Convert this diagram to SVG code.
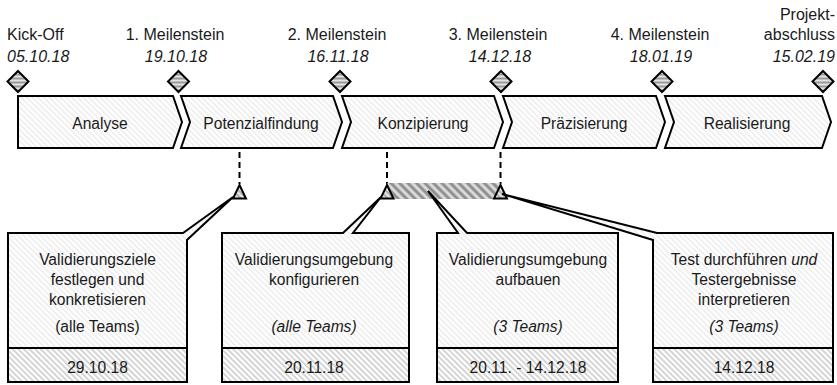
<svg xmlns="http://www.w3.org/2000/svg" width="837" height="385" viewBox="0 0 837 385">
  <defs>
    <!-- faint diagonal hatch for phase chevrons and callout bodies -->
    <pattern id="hatch-faint" patternUnits="userSpaceOnUse" width="4" height="4" patternTransform="rotate(-45)">
      <rect width="4" height="4" fill="#ffffff"/>
      <line x1="2" y1="0" x2="2" y2="4" stroke="#e4e4e4" stroke-width="1.1"/>
    </pattern>
    <!-- stronger hatch for the date cells -->
    <pattern id="hatch-date" patternUnits="userSpaceOnUse" width="4" height="4" patternTransform="rotate(-45)">
      <rect width="4" height="4" fill="#ffffff"/>
      <line x1="2" y1="0" x2="2" y2="4" stroke="#b4b4b4" stroke-width="1.1"/>
    </pattern>
    <!-- gray stripes for the duration bar -->
    <pattern id="hatch-bar" patternUnits="userSpaceOnUse" width="6" height="6" patternTransform="rotate(-45)">
      <rect width="6" height="6" fill="#dedede"/>
      <line x1="3" y1="0" x2="3" y2="6" stroke="#8c8c8c" stroke-width="3"/>
    </pattern>
    <!-- light hatch inside the small triangles -->
    <pattern id="hatch-tri" patternUnits="userSpaceOnUse" width="4" height="4" patternTransform="rotate(-45)">
      <rect width="4" height="4" fill="#e6e6e6"/>
      <line x1="2" y1="0" x2="2" y2="4" stroke="#a0a0a0" stroke-width="1.5"/>
    </pattern>
    <!-- horizontal stripes inside milestone diamonds -->
    <pattern id="stripes-h" patternUnits="userSpaceOnUse" width="4" height="4">
      <rect width="4" height="4" fill="#e4e4e4"/>
      <rect width="4" height="2" fill="#9a9a9a"/>
    </pattern>
    <path id="diamond" d="M0,-10.5 L10.5,0 L0,10.5 L-10.5,0 Z"/>
  </defs>
  <style>
    text { font-family: "Liberation Sans", Arial, sans-serif; fill: #1a1a1a; }
    .top { font-size: 16px; }
    .lbl { font-size: 15.6px; text-anchor: middle; }
    .it { font-style: italic; }
    .mid { text-anchor: middle; }
    .end { text-anchor: end; }
    .chev { fill: url(#hatch-faint); stroke: #000; stroke-width: 2; stroke-linejoin: miter; }
    .ms { fill: url(#stripes-h); stroke: #000; stroke-width: 2; }
    .tri { fill: url(#hatch-tri); stroke: #000; stroke-width: 2; stroke-linejoin: miter; }
    .box { fill: url(#hatch-faint); stroke: #000; stroke-width: 2; stroke-linejoin: miter; }
    .date { fill: url(#hatch-date); stroke: #000; stroke-width: 2; }
    .dash { stroke: #000; stroke-width: 2; stroke-dasharray: 6 4; fill: none; }
  </style>

  <rect width="837" height="385" fill="#ffffff"/>

  <!-- milestone labels -->
  <g id="milestone-labels" class="top">
    <text x="7" y="39.5">Kick-Off</text>
    <text x="7" y="61.5" class="it">05.10.18</text>
    <text x="175" y="39.5" class="mid">1. Meilenstein</text>
    <text x="176" y="61.5" class="it mid">19.10.18</text>
    <text x="337" y="39.5" class="mid">2. Meilenstein</text>
    <text x="338" y="61.5" class="it mid">16.11.18</text>
    <text x="498" y="39.5" class="mid">3. Meilenstein</text>
    <text x="500" y="61.5" class="it mid">14.12.18</text>
    <text x="660" y="39.5" class="mid">4. Meilenstein</text>
    <text x="661" y="61.5" class="it mid">18.01.19</text>
    <text x="835" y="19.5" class="end">Projekt-</text>
    <text x="835" y="39.5" class="end">abschluss</text>
    <text x="835" y="61.5" class="it end">15.02.19</text>
  </g>

  <!-- milestone diamonds -->
  <g id="milestones">
    <use href="#diamond" class="ms" transform="translate(18,81.5)"/>
    <use href="#diamond" class="ms" transform="translate(178.5,81.5)"/>
    <use href="#diamond" class="ms" transform="translate(340,81.5)"/>
    <use href="#diamond" class="ms" transform="translate(501,81.5)"/>
    <use href="#diamond" class="ms" transform="translate(662,81.5)"/>
    <use href="#diamond" class="ms" transform="translate(823,81.5)"/>
  </g>

  <!-- phase chevrons -->
  <g id="phase-analyse">
    <path class="chev" d="M18,96 H173 L182,122 L173,148 H18 Z"/>
    <text class="lbl" x="100" y="129">Analyse</text>
  </g>
  <g id="phase-potenzialfindung">
    <path class="chev" d="M181,96 H333 L342,122 L333,148 H181 L190,122 Z"/>
    <text class="lbl" x="261" y="129">Potenzialfindung</text>
  </g>
  <g id="phase-konzipierung">
    <path class="chev" d="M342,96 H494 L503,122 L494,148 H342 L351,122 Z"/>
    <text class="lbl" x="423" y="129">Konzipierung</text>
  </g>
  <g id="phase-praezisierung">
    <path class="chev" d="M503,96 H656 L665,122 L656,148 H503 L512,122 Z"/>
    <text class="lbl" x="584" y="129">Präzisierung</text>
  </g>
  <g id="phase-realisierung">
    <path class="chev" d="M665,96 H822 L831,122 L822,148 H665 L674,122 Z"/>
    <text class="lbl" x="747" y="129">Realisierung</text>
  </g>

  <!-- dashed drop lines from the phases -->
  <g id="connectors">
    <line class="dash" x1="239.5" y1="152" x2="239.5" y2="184"/>
    <line class="dash" x1="387" y1="152" x2="387" y2="184"/>
    <line class="dash" x1="500.5" y1="152" x2="500.5" y2="184"/>
  </g>

  <!-- duration bar and event triangles -->
  <g id="duration-bar">
    <rect x="387" y="183" width="113.5" height="16" fill="url(#hatch-bar)"/>
  </g>
  <g id="event-1">
    <path class="tri" d="M239.5,185 L246,198.5 L233,198.5 Z"/>
  </g>
  <g id="event-2">
    <path class="tri" d="M387,185 L393.5,198.5 L380.5,198.5 Z"/>
  </g>
  <g id="event-3">
    <path class="tri" d="M500.5,185 L507,198.5 L494,198.5 Z"/>
  </g>

  <!-- callout boxes -->
  <g id="task-ziele">
    <path class="box" d="M8,233 H183 L233,197 L187,240 V382 H8 Z"/>
    <rect class="date" x="8" y="348" width="179" height="34"/>
    <text class="lbl" x="97.5" y="265">Validierungsziele</text>
    <text class="lbl" x="97.5" y="285">festlegen und</text>
    <text class="lbl" x="97.5" y="305">konkretisieren</text>
    <text class="lbl" x="97.5" y="332">(alle Teams)</text>
    <text class="lbl" x="97.5" y="373">29.10.18</text>
  </g>
  <g id="task-konfigurieren">
    <path class="box" d="M222,233 H343 L381,197 L353,233 H409 V382 H222 Z"/>
    <rect class="date" x="222" y="348" width="187" height="34"/>
    <text class="lbl" x="314" y="265">Validierungsumgebung</text>
    <text class="lbl" x="314" y="285">konfigurieren</text>
    <text class="lbl it" x="314" y="332">(alle Teams)</text>
    <text class="lbl" x="314" y="373">20.11.18</text>
  </g>
  <g id="task-aufbauen">
    <path class="box" d="M437,233 H458 L428,191 L467,233 H618 V382 H437 Z"/>
    <rect class="date" x="437" y="348" width="181" height="34"/>
    <text class="lbl" x="528" y="265">Validierungsumgebung</text>
    <text class="lbl" x="528" y="285">aufbauen</text>
    <text class="lbl it" x="528" y="332">(3 Teams)</text>
    <text class="lbl" x="528" y="373">20.11. - 14.12.18</text>
  </g>
  <g id="task-test">
    <path class="box" d="M653,240 L502,194 L657,233 H833 V382 H653 Z"/>
    <rect class="date" x="653" y="348" width="180" height="34"/>
    <text class="lbl" x="744" y="265">Test durchführen <tspan class="it">und</tspan></text>
    <text class="lbl" x="744" y="285">Testergebnisse</text>
    <text class="lbl" x="744" y="305">interpretieren</text>
    <text class="lbl it" x="744" y="332">(3 Teams)</text>
    <text class="lbl" x="744" y="373">14.12.18</text>
  </g>
</svg>
